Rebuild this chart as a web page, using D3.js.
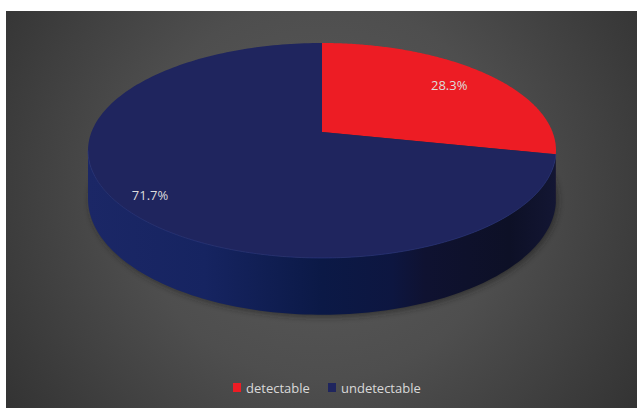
<!DOCTYPE html>
<html><head><meta charset="utf-8">
<script src="https://cdn.jsdelivr.net/npm/d3@7"></script>
<style>html,body{margin:0;padding:0;background:#fff;}svg{display:block;}</style>
</head><body>
<script>
const categories = ["detectable", "undetectable"];
const values = [28.3, 71.7];
const labels = ["28.3%", "71.7%"];
const topColors = ["#ed1c24", "#1f255e"];
const sideColors = ["#b5141b", "url(#sideGrad)"];
const labelRadius = [0.77, 0.87];

const W = 637, H = 408;
const svg = d3.select("body").append("svg").attr("width", W).attr("height", H);
const defs = svg.append("defs");

const bg = defs.append("radialGradient").attr("id", "bgGrad")
  .attr("gradientUnits", "userSpaceOnUse").attr("cx", 322).attr("cy", 190).attr("r", 420);
bg.append("stop").attr("offset", "0%").attr("stop-color", "#5b5b5b");
bg.append("stop").attr("offset", "45%").attr("stop-color", "#4e4e4e");
bg.append("stop").attr("offset", "100%").attr("stop-color", "#2e2e2e");

const sg = defs.append("linearGradient").attr("id", "sideGrad")
  .attr("gradientUnits", "userSpaceOnUse").attr("x1", 88).attr("x2", 556).attr("y1", 0).attr("y2", 0);
[["0%", "#1b2766"], ["25%", "#162461"], ["50%", "#0b1946"], ["65%", "#0d1640"], ["72%", "#0f1231"], ["90%", "#0d1026"], ["100%", "#131633"]]
  .forEach(([o, c]) => sg.append("stop").attr("offset", o).attr("stop-color", c));

const blur = defs.append("filter").attr("id", "shadow").attr("x", "-20%").attr("y", "-20%").attr("width", "140%").attr("height", "140%");
blur.append("feGaussianBlur").attr("stdDeviation", 3);

svg.append("rect").attr("x", 6).attr("y", 11).attr("width", W - 6).attr("height", H - 11).attr("fill", "url(#bgGrad)");

// perspective projection of the pie disc
const cx = 322, e = 230.5, a = 132, b = 81.6, c = -0.172, h0 = 47;
function proj(theta, k, level) {
  const s = Math.sin(theta) * k, t = -Math.cos(theta) * k;
  const den = 1 + c * t;
  const x = cx + e * s / den;
  const y = (a + b * t) / den + (level ? h0 / den : 0);
  return [x, y];
}

const pie = d3.pie().sort(null).value(d => d).startAngle(0).endAngle(2 * Math.PI);
const arcs = pie(values);

const rightT = Math.acos(c), leftT = 2 * Math.PI - Math.acos(c);

function sample(a0, a1, n) {
  const pts = [];
  for (let i = 0; i <= n; i++) pts.push(a0 + (a1 - a0) * i / n);
  return pts;
}

// soft shadow under the pie
{
  const th = sample(0, 2 * Math.PI, 200);
  svg.append("path").attr("d", d3.line()(th.map(t => { const p = proj(t, 1, 1); return [p[0] + 2, p[1] + 2]; })) + "Z")
    .attr("fill", "#1e1e1e").attr("opacity", 0.6).attr("filter", "url(#shadow)");
}

const gSide = svg.append("g");
arcs.forEach((d, i) => {
  const a0 = Math.max(d.startAngle, rightT), a1 = Math.min(d.endAngle, leftT);
  if (a1 <= a0) return;
  const th = sample(a0, a1, 120);
  const topPts = th.map(t => proj(t, 1, 0));
  const botPts = th.slice().reverse().map(t => proj(t, 1, 1));
  gSide.append("path").attr("d", d3.line()(topPts.concat(botPts)) + "Z")
    .attr("fill", sideColors[i]);
});

const gTop = svg.append("g");
arcs.forEach((d, i) => {
  const th = sample(d.startAngle, d.endAngle, 200);
  const pts = [proj(0, 0, 0)].concat(th.map(t => proj(t, 1, 0)));
  gTop.append("path").attr("d", d3.line()(pts) + "Z").attr("fill", topColors[i]);
});
// subtle front edge highlight
{
  const th = sample(Math.max(arcs[1].startAngle, rightT), leftT, 200);
  gTop.append("path").attr("d", d3.line()(th.map(t => proj(t, 1, 0))))
    .attr("fill", "none").attr("stroke", "#2b3a86").attr("stroke-width", 0.8).attr("opacity", 0.7);
}

// labels
arcs.forEach((d, i) => {
  const mid = (d.startAngle + d.endAngle) / 2;
  const [x, y] = proj(mid, labelRadius[i], 0);
  svg.append("text").attr("x", x).attr("y", y).attr("dy", "0.4em")
    .attr("text-anchor", "middle").attr("font-family", "Open Sans").attr("font-size", 13)
    .attr("fill", "#dcdcdc").text(labels[i]);
});

// legend
const legend = svg.append("g").attr("transform", "translate(233,383)");
const legX = [0, 95];
categories.forEach((cat, i) => {
  const g = legend.append("g").attr("transform", `translate(${legX[i]},0)`);
  g.append("rect").attr("width", 8).attr("height", 9).attr("fill", topColors[i]);
  g.append("text").attr("x", 13).attr("y", 9.5).attr("font-family", "Open Sans").attr("font-size", 13)
    .attr("fill", "#d9d9d9").text(cat);
});
</script>
</body></html>
